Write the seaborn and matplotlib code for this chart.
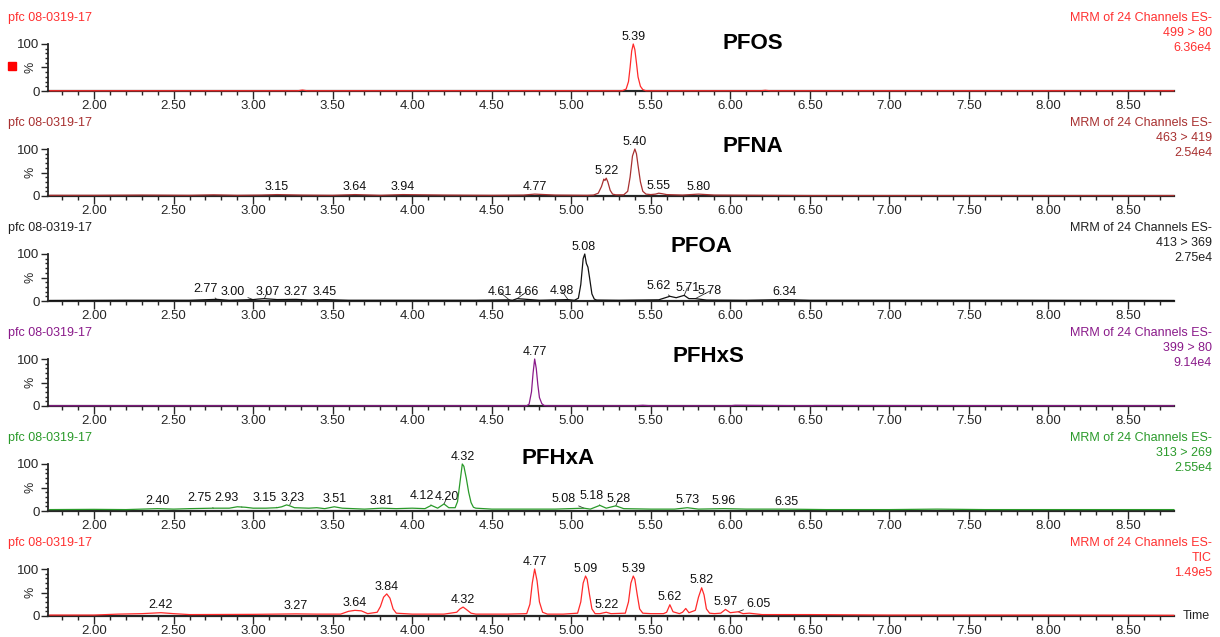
import numpy as np
import pandas as pd
import matplotlib
matplotlib.use('Agg')
import matplotlib.pyplot as plt
from matplotlib.ticker import MultipleLocator, FixedLocator
from matplotlib.patches import Rectangle
import seaborn as sns

sns.set_style('ticks')
plt.rcParams['font.family'] = ['Liberation Sans', 'DejaVu Sans']

# --- 数据 ---
sample = 'pfc 08-0319-17'
compounds = ['PFOS', 'PFNA', 'PFOA', 'PFHxS', 'PFHxA', '']
transitions = ['499 > 80', '463 > 419', '413 > 369', '399 > 80', '313 > 269', 'TIC']
intensities = ['6.36e4', '2.54e4', '2.75e4', '9.14e4', '2.55e4', '1.49e5']

# 色谱图各通道 (保留时间 min, 相对强度 %)
pfos_t = [1.72, 2.60, 3.28, 3.31, 3.34, 4.70, 5.32, 5.345, 5.36, 5.37, 5.38, 5.39, 5.40, 5.41, 5.42,
          5.435, 5.45, 5.47, 6.19, 6.22, 6.25, 8.79]
pfos_y = [0.5, 0.5, 0.5, 2.0, 0.5, 0.6, 0.5, 4, 20, 50, 85, 100, 88, 60, 30,
          10, 3, 0.5, 0.5, 1.5, 0.5, 0.5]

pfna_t = [1.72, 2.00, 2.30, 2.60, 2.75, 2.90, 3.05, 3.15, 3.30, 3.50, 3.64, 3.80, 3.94, 4.20, 4.50, 4.70,
          4.77, 4.90, 5.10, 5.14, 5.17, 5.19, 5.205, 5.212, 5.22, 5.23, 5.245, 5.26, 5.28, 5.33, 5.355,
          5.37, 5.385, 5.40, 5.41, 5.42, 5.435, 5.45, 5.47, 5.50, 5.53, 5.55, 5.57, 5.60, 5.70, 5.80,
          5.90, 6.20, 6.50, 7.00, 7.50, 8.00, 8.79]
pfna_y = [1.5, 1.5, 2.0, 1.5, 2.5, 1.5, 2.0, 3.0, 2.0, 1.5, 3.0, 1.5, 3.0, 2.0, 1.5, 2.0,
          4.0, 2.0, 1.5, 2.0, 6, 20, 36, 33, 38, 30, 12, 4, 2.5, 2.5, 10,
          40, 85, 100, 90, 65, 30, 10, 4, 3, 4, 6, 5, 3, 2, 4,
          2, 1.5, 1.0, 1.0, 1.0, 1.0, 1.0]

pfoa_t = [1.72, 2.20, 2.60, 2.77, 2.85, 3.00, 3.03, 3.07, 3.15, 3.27, 3.35, 3.45, 3.60, 4.00, 4.40, 4.61,
          4.63, 4.66, 4.80, 4.98, 5.02, 5.045, 5.06, 5.075, 5.085, 5.095, 5.105, 5.115, 5.13, 5.145, 5.16,
          5.30, 5.55, 5.62, 5.66, 5.71, 5.74, 5.78, 5.85, 6.10, 6.34, 6.50, 7.00, 7.80, 8.79]
pfoa_y = [1.0, 1.5, 1.5, 3.5, 1.5, 3.0, 4.0, 5.0, 3.0, 3.5, 2.0, 3.0, 1.5, 1.5, 1.5, 2.5,
          1.5, 5.0, 1.5, 3.0, 1.5, 6, 35, 90, 100, 80, 72, 50, 15, 4, 2,
          1.5, 2.5, 10, 7, 12, 5, 5, 2.0, 1.5, 3.0, 1.5, 1.5, 1.5, 1.0]

pfhxs_t = [1.72, 3.00, 4.50, 4.72, 4.735, 4.75, 4.76, 4.77, 4.78, 4.79, 4.80, 4.815, 4.83, 4.85, 5.40,
           5.45, 5.50, 6.00, 6.03, 6.50, 6.53, 8.79]
pfhxs_y = [0.5, 0.5, 0.5, 0.5, 4, 30, 70, 100, 80, 45, 18, 5, 1, 0.5, 0.5,
           1.5, 0.5, 0.5, 1.5, 0.5, 1.0, 0.5]

pfhxa_t = [1.72, 2.00, 2.20, 2.40, 2.50, 2.60, 2.75, 2.85, 2.90, 2.95, 3.00, 3.08, 3.15, 3.18, 3.21, 3.23,
           3.26, 3.35, 3.40, 3.45, 3.51, 3.56, 3.70, 3.81, 3.90, 4.00, 4.08, 4.12, 4.16, 4.20, 4.23, 4.27,
           4.285, 4.30, 4.315, 4.325, 4.34, 4.355, 4.37, 4.385, 4.40, 4.50, 4.70, 4.90, 5.08, 5.12, 5.18,
           5.22, 5.28, 5.33, 5.50, 5.65, 5.73, 5.80, 5.96, 6.10, 6.35, 6.60, 7.00, 7.30, 7.60, 8.00, 8.40,
           8.79]
pfhxa_y = [3, 3.5, 3, 5, 4, 5, 6, 6, 9, 8, 6, 6, 7, 9, 13, 11,
           7, 6, 7, 5, 9, 6, 4, 6, 5, 6, 5, 12, 6, 15, 7, 7,
           20, 60, 100, 95, 70, 40, 18, 8, 6, 4, 4, 4, 6, 4, 12,
           6, 11, 5, 4, 4, 7, 4, 5, 4, 4, 3, 3, 4, 3, 3, 3,
           3]

tic_t = [1.72, 2.00, 2.15, 2.30, 2.42, 2.50, 2.60, 3.00, 3.27, 3.40, 3.55, 3.60, 3.64, 3.68, 3.72, 3.78,
         3.80, 3.82, 3.84, 3.86, 3.88, 3.90, 4.00, 4.20, 4.28, 4.30, 4.32, 4.34, 4.37, 4.40, 4.60, 4.72,
         4.74, 4.755, 4.77, 4.785, 4.80, 4.82, 4.85, 4.95, 5.04, 5.06, 5.075, 5.09, 5.10, 5.115, 5.13,
         5.15, 5.18, 5.22, 5.25, 5.34, 5.36, 5.375, 5.39, 5.40, 5.415, 5.43, 5.45, 5.50, 5.58, 5.60,
         5.62, 5.64, 5.68, 5.70, 5.72, 5.74, 5.78, 5.80, 5.82, 5.835, 5.85, 5.87, 5.90, 5.94, 5.97,
         6.00, 6.05, 6.08, 6.12, 6.20, 6.50, 7.00, 8.00, 8.79]
tic_y = [2, 2, 4, 5, 7, 5, 3, 3.5, 4.5, 4, 4, 10, 12, 11, 5, 8,
         20, 40, 47, 38, 15, 6, 4, 4, 8, 15, 19, 14, 6, 4, 4, 5,
         25, 70, 100, 75, 30, 8, 4, 4, 6, 30, 70, 85, 78, 45, 15,
         5, 5, 8, 5, 6, 30, 70, 85, 78, 45, 15, 6, 5, 5, 8,
         24, 9, 5, 8, 16, 7, 12, 40, 60, 45, 15, 6, 5, 6, 14,
         7, 9, 5, 6, 3, 3, 2, 2, 1.5]

traces_t = [pfos_t, pfna_t, pfoa_t, pfhxs_t, pfhxa_t, tic_t]
traces_y = [pfos_y, pfna_y, pfoa_y, pfhxs_y, pfhxa_y, tic_y]

# 峰标注 (保留时间)
peak_labels = [
    ['5.39'],
    ['3.15', '3.64', '3.94', '4.77', '5.22', '5.40', '5.55', '5.80'],
    ['2.77', '3.00', '3.07', '3.27', '3.45', '4.61', '4.66', '4.98', '5.08', '5.62', '5.71', '5.78', '6.34'],
    ['4.77'],
    ['2.40', '2.75', '2.93', '3.15', '3.23', '3.51', '3.81', '4.12', '4.20', '4.32', '5.08', '5.18', '5.28',
     '5.73', '5.96', '6.35'],
    ['2.42', '3.27', '3.64', '3.84', '4.32', '4.77', '5.09', '5.22', '5.39', '5.62', '5.82', '5.97', '6.05'],
]

# --- 样式 / 布局 ---
colors = ['#ff2a2a', '#a83030', '#111111', '#8a1a8a', '#2a9a2a', '#ff2a2a']
text_colors = ['#ff3030', '#a83030', '#202020', '#8a1a8a', '#2a9a2a', '#ff3030']
# 引线标注的偏移 (dx 分钟, dy %)
leader = [
    {},
    {},
    {'2.77': (-0.07, 10), '3.00': (-0.13, 4), '3.07': (0.02, 2), '4.61': (-0.06, 4), '4.66': (0.06, 2),
     '4.98': (-0.04, 6), '5.62': (-0.07, 10), '5.71': (0.02, 3), '5.78': (0.09, 3)},
    {},
    {'2.75': (-0.09, 8), '2.93': (-0.10, 6), '3.15': (-0.08, 8), '3.23': (0.02, 2),
     '4.12': (-0.06, 8), '4.20': (0.02, 2), '5.08': (-0.13, 6), '5.18': (-0.05, 8), '5.28': (0.02, 2)},
    {'6.05': (0.13, 4)},
]
name_pos = [(6.14, 100), (6.14, 106), (5.82, 116), (5.86, 106), (4.92, 111), None]

W, H = 1220, 637
fig = plt.figure(figsize=(W / 100, H / 100), dpi=100)
fig.patch.set_facecolor('white')

left_px, right_px = 48, 1174
for i in range(6):
    y0 = 91 + 105 * i
    ax = fig.add_axes([left_px / W, 1 - y0 / H, (right_px - left_px) / W, 47 / H])
    df = pd.DataFrame({'t': traces_t[i], 'y': traces_y[i]})
    sns.lineplot(data=df, x='t', y='y', ax=ax, color=colors[i], lw=0.9, clip_on=False,
                 zorder=5, estimator=None, sort=False, legend=False)
    ax.set_xlim(1.71, 8.79)
    ax.set_ylim(0, 100)
    ax.set_xlabel('')
    ax.set_ylabel('')
    for s in ['top', 'right']:
        ax.spines[s].set_visible(False)
    ax.spines['left'].set_linewidth(1.3)
    ax.spines['bottom'].set_linewidth(1.6)
    ax.xaxis.set_major_locator(MultipleLocator(0.5))
    ax.xaxis.set_minor_locator(MultipleLocator(0.1))
    ax.xaxis.set_major_formatter(matplotlib.ticker.FormatStrFormatter('%.2f'))
    ax.yaxis.set_major_locator(FixedLocator([0, 50, 100]))
    ax.set_yticklabels(['0', '', '100'])
    ax.yaxis.set_minor_locator(MultipleLocator(10))
    ax.tick_params(axis='x', which='major', length=6, width=1, labelsize=9.5, pad=0.5, direction='out')
    ax.tick_params(axis='x', which='minor', length=3, width=1, direction='out')
    ax.tick_params(axis='y', which='major', length=5, width=1, labelsize=9.5, pad=1, direction='out')
    ax.tick_params(axis='y', which='minor', length=2.5, width=1, direction='out')
    ax.patch.set_alpha(0)
    ax.text(-0.01, 0.5, '%', rotation=90, transform=ax.transAxes, ha='right', va='center', fontsize=9)

    tt = np.array(traces_t[i])
    yy = np.array(traces_y[i])
    for lab in peak_labels[i]:
        rt = float(lab)
        win = np.abs(tt - rt) <= 0.025
        h = yy[win].max() if win.any() else np.interp(rt, tt, yy)
        if lab in leader[i]:
            dx, dy = leader[i][lab]
            ax.annotate(lab, xy=(rt, h), xytext=(rt + dx, h + dy), ha='center', va='bottom',
                        fontsize=9, color='#111111', annotation_clip=False,
                        arrowprops=dict(arrowstyle='-', lw=0.6, color='#333333', shrinkA=0, shrinkB=0))
        else:
            ax.text(rt, h + 3, lab, ha='center', va='bottom', fontsize=9, color='#111111', clip_on=False)

    if name_pos[i] is not None:
        ax.text(name_pos[i][0], name_pos[i][1], compounds[i], ha='center', va='center',
                fontsize=16, fontweight='bold', color='black', clip_on=False)

    # 标题文字
    fig.text(8 / W, 1 - (y0 - 73) / H, sample, ha='left', va='center', fontsize=9, color=text_colors[i])
    fig.text(1212 / W, 1 - (y0 - 73) / H, 'MRM of 24 Channels ES-', ha='right', va='center',
             fontsize=9, color=text_colors[i])
    fig.text(1212 / W, 1 - (y0 - 58) / H, transitions[i], ha='right', va='center', fontsize=9,
             color=text_colors[i])
    fig.text(1212 / W, 1 - (y0 - 43) / H, intensities[i], ha='right', va='center', fontsize=9,
             color=text_colors[i])

fig.patches.append(Rectangle((8 / W, 1 - 70 / H), 8 / W, 8 / H, transform=fig.transFigure,
                             color='#ff0000', figure=fig))
fig.text(1183 / W, 1 - 616 / H, 'Time', ha='left', va='center', fontsize=9)

fig.savefig('out.png', dpi=100)
